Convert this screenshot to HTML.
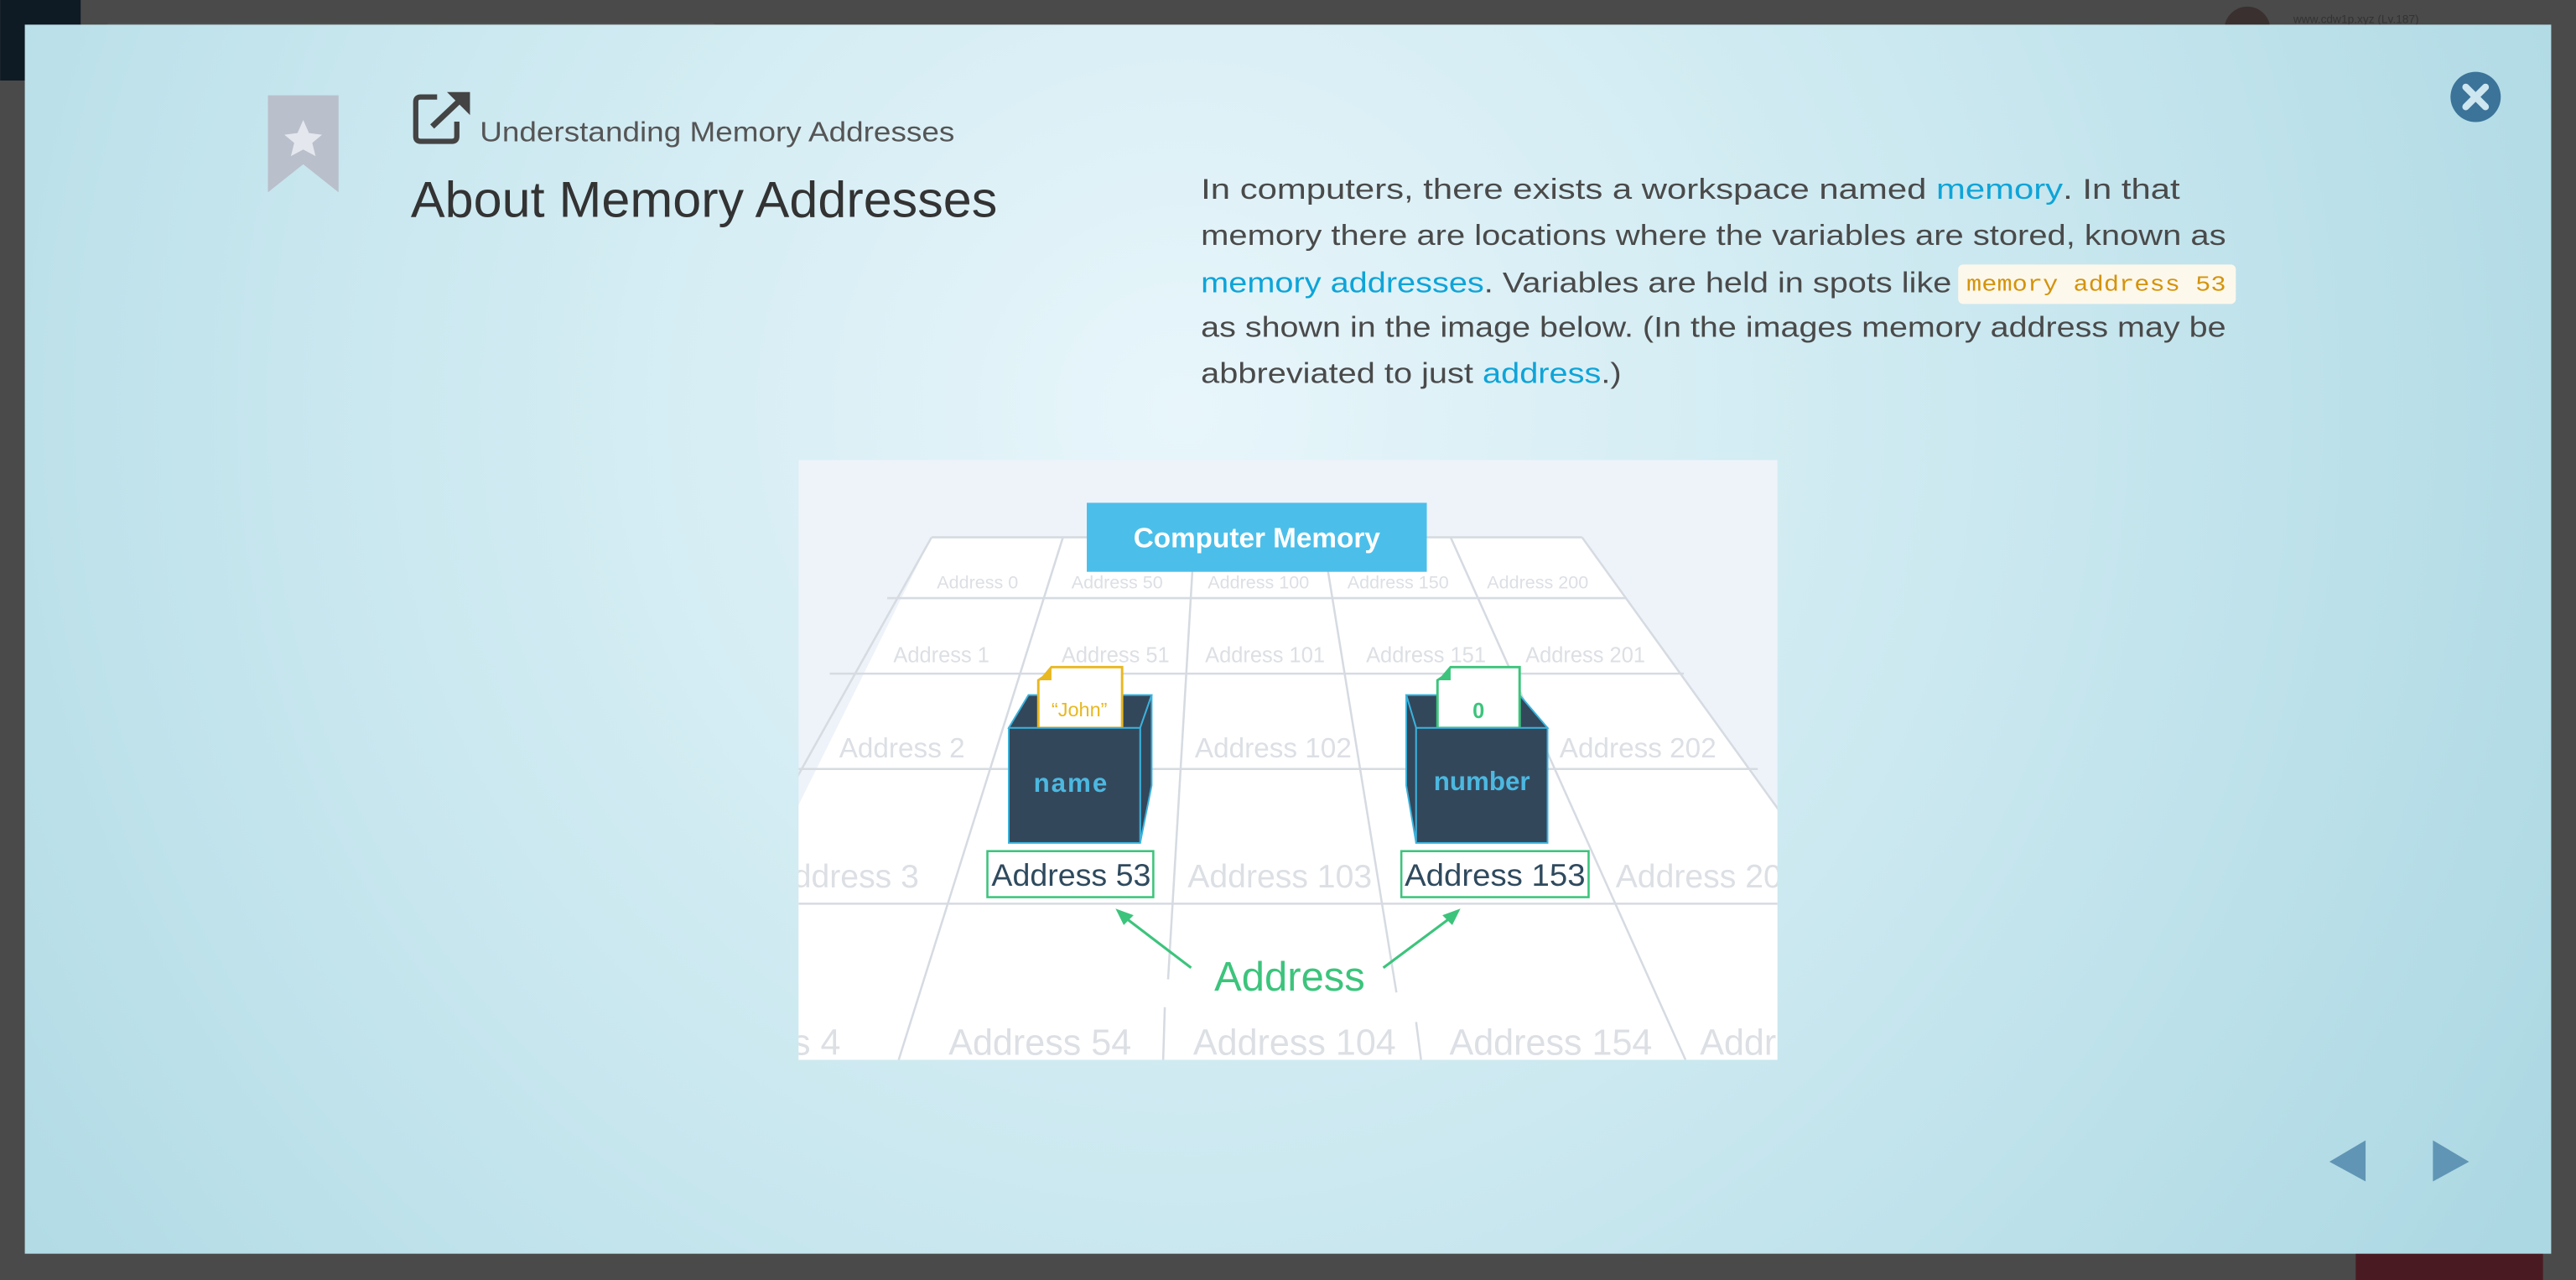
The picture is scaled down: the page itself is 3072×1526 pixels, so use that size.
<!DOCTYPE html>
<html><head><meta charset="utf-8"><style>
html,body{margin:0;padding:0;width:3072px;height:1526px;overflow:hidden;background:#4a4a4a}
svg{display:block}
</style></head><body>
<svg width="3072" height="1526" viewBox="0 0 1568 779" xmlns="http://www.w3.org/2000/svg" font-family="'Liberation Sans', sans-serif">
<defs>
<radialGradient id="bg" cx="720" cy="250" r="950" gradientUnits="userSpaceOnUse">
<stop offset="0" stop-color="#e8f6fb"/><stop offset="0.55" stop-color="#c9e7ef"/><stop offset="1" stop-color="#acd8e3"/>
</radialGradient>
<clipPath id="ic"><rect x="486" y="280" width="596" height="365"/></clipPath>
</defs>
<rect width="1568" height="779" fill="#4a4a4a"/>
<rect x="0" y="0" width="49" height="49" fill="#0e1a24"/>
<rect x="64" y="14" width="372" height="14" rx="3" fill="#525252"/>
<circle cx="1368" cy="18" r="14" fill="#3a3030"/>
<text x="1396" y="14" font-size="7" fill="#333">www.cdw1p.xyz (Lv.187)</text>
<rect x="1434" y="755" width="114" height="24" fill="#4a1a22"/>
<rect x="15" y="15" width="1538" height="748" fill="url(#bg)"/>

<!-- bookmark -->
<path d="M163 58 H206 V117 L184.5 100 L163 117 Z" fill="#b9bfcb"/>
<path d="M184.5 73 L188 81 L196 82 L190 87 L192 95 L184.5 91 L177 95 L179 87 L173 82 L181 81 Z" fill="#e4e7ee"/>
<!-- external link icon -->
<path d="M266 59 H256 Q253 59 253 62 V83 Q253 86 256 86 H275 Q278 86 278 83 V74" fill="none" stroke="#444" stroke-width="3.2"/>
<path d="M263 77 L281 60" stroke="#444" stroke-width="3.5"/>
<path d="M272 56 H286 V70 Z" fill="#444"/>
<text x="292" y="86" font-size="17" fill="#555" textLength="289" lengthAdjust="spacingAndGlyphs">Understanding Memory Addresses</text>
<text x="250" y="132" font-size="31" fill="#333" textLength="357" lengthAdjust="spacingAndGlyphs">About Memory Addresses</text>

<!-- paragraph -->
<g font-size="17.5" fill="#4a4a4a">
<text x="731" y="121" textLength="596" lengthAdjust="spacingAndGlyphs">In computers, there exists a workspace named <tspan fill="#0ea4d8">memory</tspan>. In that</text>
<text x="731" y="149" textLength="624" lengthAdjust="spacingAndGlyphs">memory there are locations where the variables are stored, known as</text>
<text x="731" y="178" textLength="457" lengthAdjust="spacingAndGlyphs"><tspan fill="#0ea4d8">memory addresses</tspan>. Variables are held in spots like</text>
<text x="731" y="205" textLength="624" lengthAdjust="spacingAndGlyphs">as shown in the image below. (In the images memory address may be</text>
<text x="731" y="233" textLength="256" lengthAdjust="spacingAndGlyphs">abbreviated to just <tspan fill="#0ea4d8">address</tspan>.)</text>
</g>
<rect x="1192" y="161" width="169" height="24" rx="3" fill="#fdf8ec"/>
<text x="1197" y="177" font-family="'Liberation Mono', monospace" font-size="13" fill="#d4930b" textLength="158" lengthAdjust="spacingAndGlyphs">memory address 53</text>

<!-- close -->
<circle cx="1507" cy="59" r="15.3" fill="#3b7399"/>
<path d="M1501 53 L1513 65 M1513 53 L1501 65" stroke="#cde6ef" stroke-width="4.2" stroke-linecap="round"/>
<!-- nav arrows -->
<path d="M1418 707 L1440 694 V719 Z" fill="#6095b5"/>
<path d="M1503 707 L1481 694 V719 Z" fill="#6095b5"/>

<!-- diagram -->
<g clip-path="url(#ic)">
<rect x="486" y="280" width="596" height="365" fill="#eef3fa"/>
<polygon points="567,327 963,327 1082,492 1082,645 486,645 486,490" fill="#fff"/>
<g stroke="#d6dbe2" stroke-width="1.3" fill="none">
<line x1="567" y1="327" x2="963" y2="327"/>
<line x1="540" y1="364" x2="990" y2="364"/>
<line x1="505" y1="410" x2="1025" y2="410"/>
<line x1="486" y1="468" x2="1070" y2="468"/>
<line x1="486" y1="550" x2="1082" y2="550"/>
<line x1="567" y1="327" x2="470" y2="500"/>
<line x1="963" y1="327" x2="1090" y2="503"/>
<line x1="647" y1="327" x2="547" y2="645"/>
<line x1="727" y1="327" x2="711" y2="596"/><line x1="709" y1="613" x2="708" y2="645"/>
<line x1="805" y1="327" x2="850" y2="604"/><line x1="862" y1="622" x2="865" y2="645"/>
<line x1="883" y1="327" x2="1026" y2="645"/>
</g>
<g fill="#dcdfe4" text-anchor="middle">
<g font-size="11"><text x="595" y="358">Address 0</text><text x="680" y="358">Address 50</text><text x="766" y="358">Address 100</text><text x="851" y="358">Address 150</text><text x="936" y="358">Address 200</text></g>
<g font-size="13"><text x="573" y="403">Address 1</text><text x="679" y="403">Address 51</text><text x="770" y="403">Address 101</text><text x="868" y="403">Address 151</text><text x="965" y="403">Address 201</text></g>
<g font-size="17"><text x="549" y="461">Address 2</text><text x="775" y="461">Address 102</text><text x="997" y="461">Address 202</text></g>
<g font-size="20"><text x="521" y="540">ddress 3</text><text x="779" y="540">Address 103</text><text x="1034" y="540">Address 20</text></g>
<g font-size="22"><text x="497" y="642">s 4</text><text x="633" y="642">Address 54</text><text x="788" y="642">Address 104</text><text x="944" y="642">Address 154</text><text x="1058" y="642">Addr</text></g>
</g>
<rect x="661.5" y="306" width="207" height="42" fill="#4bbfea"/>
<text x="765" y="333" font-size="17" font-weight="bold" fill="#fff" text-anchor="middle">Computer Memory</text>

<!-- name box -->
<polygon points="614,443 626,423 701,423 694,443" fill="#33475b" stroke="#3bb2dc" stroke-width="1"/>
<path d="M635 412 L640 406 H683 V443 H632 V414 Z" fill="#fff" stroke="#e8b820" stroke-width="1.5"/>
<path d="M632 414 L640 406 V414 Z" fill="#e8b820"/>
<text x="657" y="436" font-size="12" fill="#e8b820" text-anchor="middle">“John”</text>
<polygon points="694,443 701,423 701,478 694,513" fill="#33475b" stroke="#3bb2dc" stroke-width="1"/>
<rect x="614" y="443" width="80" height="70" fill="#33475b" stroke="#3bb2dc" stroke-width="1"/>
<text x="652" y="482" font-size="16" font-weight="bold" fill="#4cb8e0" text-anchor="middle" letter-spacing="1">name</text>

<!-- number box -->
<polygon points="856,423 925,423 942,443 862,443" fill="#33475b" stroke="#3bb2dc" stroke-width="1"/>
<path d="M878 412 L883 406 H925 V443 H875 V414 Z" fill="#fff" stroke="#3cc47c" stroke-width="1.5"/>
<path d="M875 414 L883 406 V414 Z" fill="#3cc47c"/>
<text x="900" y="437" font-size="13" font-weight="bold" fill="#3cc47c" text-anchor="middle">0</text>
<polygon points="856,423 862,443 862,513 856,478" fill="#33475b" stroke="#3bb2dc" stroke-width="1"/>
<rect x="862" y="443" width="80" height="70" fill="#33475b" stroke="#3bb2dc" stroke-width="1"/>
<text x="902" y="481" font-size="16" font-weight="bold" fill="#4cb8e0" text-anchor="middle">number</text>

<!-- address labels -->
<rect x="601" y="518" width="101" height="28" fill="#fff" stroke="#3cc47c" stroke-width="1.3"/>
<text x="652" y="539" font-size="19" fill="#2f4a5e" text-anchor="middle" textLength="97" lengthAdjust="spacingAndGlyphs">Address 53</text>
<rect x="853" y="518" width="114" height="28" fill="#fff" stroke="#3cc47c" stroke-width="1.3"/>
<text x="910" y="539" font-size="19" fill="#2f4a5e" text-anchor="middle" textLength="110" lengthAdjust="spacingAndGlyphs">Address 153</text>

<!-- arrows -->
<g stroke="#3cc47c" stroke-width="1.6" fill="#3cc47c">
<line x1="725" y1="589" x2="683" y2="557"/>
<line x1="842" y1="589" x2="885" y2="557"/>
</g>
<path d="M679 553 L690 557 L684 563 Z" fill="#3cc47c"/>
<path d="M889 553 L878 557 L884 563 Z" fill="#3cc47c"/>
<text x="785" y="603" font-size="25" fill="#3cc47c" text-anchor="middle">Address</text>
</g>
</svg>
</body></html>
